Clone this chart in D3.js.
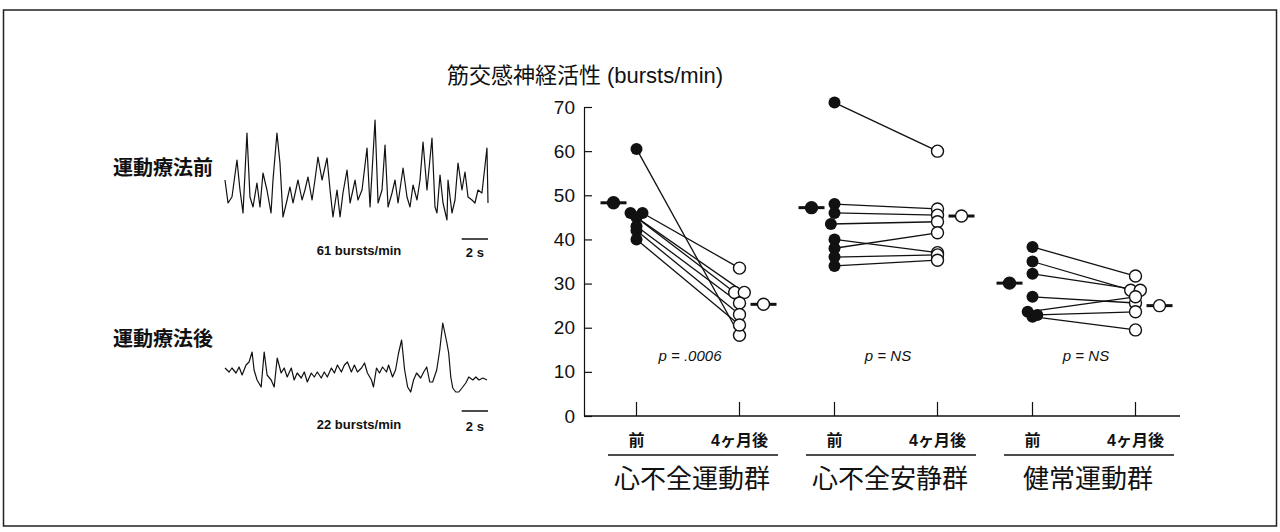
<!DOCTYPE html>
<html>
<head>
<meta charset="utf-8">
<script src="https://cdn.jsdelivr.net/npm/d3@7"></script>
<style>
  body { margin: 0; background: #fff; }
  svg { display: block; }
  text { fill: #111; }
</style>
</head>
<body>
<svg id="chart" width="1280" height="532"></svg>
<script>
// ---- data -------------------------------------------------------------
const groups = ["心不全運動群", "心不全安静群", "健常運動群"];
const phases = ["前", "4ヶ月後"];
const pLabels = ["p = .0006", "p = NS", "p = NS"];
const yTicks = [0, 10, 20, 30, 40, 50, 60, 70];

// individual subjects, before / after (bursts/min)
const hfExPre   = [60.5, 46, 46, 45, 43, 42, 40];
const hfExPost  = [18.3, 33.5, 28, 28, 25.6, 23, 20.6];
const hfRestPre  = [71, 48, 46, 43.5, 40, 38, 36, 34];
const hfRestPost = [60, 46.9, 45.5, 44, 37, 41.5, 36.5, 35.3];
const normExPre  = [38.3, 35, 32.2, 27, 23.6, 22.9, 22.5];
const normExPost = [31.7, 28.5, 28.5, 25.6, 27, 23.6, 19.5];

// small side-by-side shifts where dots overlap (in dot widths)
const hfExPreShift   = [0, 0.5, -0.5, 0, 0, 0, 0];
const hfExPostShift  = [0, 0, -0.4, 0.4, 0, 0, 0];
const hfRestPreShift  = [0, 0, 0, -0.3, 0, 0, 0, 0];
const hfRestPostShift = [0, 0, 0, 0, 0, 0, 0, 0];
const normExPreShift  = [0, 0, 0, 0, -0.4, 0.4, 0];
const normExPostShift = [0, -0.4, 0.4, 0, 0, 0, 0];

// group means, before / after
const meanPre  = [48.3, 47.2, 30.1];
const meanPost = [25.3, 45.3, 25];

// MSNA traces: [time (s), amplitude (a.u.)]
const traceBefore = [
  [0,40],[0.23,17],[0.53,23],[0.91,60],[1.14,30],[1.37,7],[1.67,87],[1.9,23],[2.13,13],
  [2.43,37],[2.66,13],[2.89,47],[3.19,30],[3.5,7],[3.65,40],[3.95,87],[4.18,57],[4.41,3],
  [4.72,20],[4.94,33],[5.17,17],[5.55,40],[5.86,20],[6.08,30],[6.31,43],[6.62,20],[6.84,40],
  [7.07,63],[7.38,40],[7.76,62],[7.99,30],[8.21,3],[8.52,30],[8.75,3],[8.97,27],[9.28,50],
  [9.51,17],[9.73,30],[9.89,40],[10.11,20],[10.42,30],[10.8,72],[11.03,13],[11.41,100],
  [11.64,17],[11.94,30],[12.17,75],[12.4,13],[12.7,27],[12.93,40],[13.16,17],[13.54,52],
  [13.84,23],[14.07,13],[14.3,35],[14.6,20],[14.83,40],[15.06,78],[15.36,30],[15.74,82],
  [15.97,13],[16.12,7],[16.35,45],[16.58,17],[16.88,0],[16.96,40],[17.26,7],[17.49,20],
  [17.72,57],[18.02,30],[18.25,48],[18.48,23],[18.78,20],[19.01,17],[19.24,30],[19.54,27],
  [19.92,72],[20,17]
];
const traceAfter = [
  [0,27],[0.31,23],[0.53,27],[0.84,22],[1.07,28],[1.3,20],[1.6,30],[1.83,33],[2.06,43],
  [2.21,25],[2.44,15],[2.75,8],[2.98,43],[3.2,20],[3.51,15],[3.74,8],[3.97,37],[4.27,22],
  [4.5,27],[4.73,18],[5.04,27],[5.26,15],[5.49,22],[5.8,17],[6.03,23],[6.26,13],[6.56,22],
  [6.79,18],[7.02,23],[7.32,17],[7.55,23],[7.78,18],[8.09,27],[8.32,22],[8.55,30],[8.85,23],
  [9.08,30],[9.31,33],[9.61,23],[9.84,30],[10.07,23],[10.38,27],[10.61,32],[10.83,22],
  [11.14,15],[11.29,8],[11.52,27],[11.75,22],[11.98,28],[12.28,23],[12.44,30],[12.74,18],
  [12.97,25],[13.2,42],[13.43,55],[13.66,25],[13.89,8],[14.12,3],[14.34,15],[14.57,22],
  [14.88,17],[15.11,23],[15.34,28],[15.57,13],[15.79,13],[16.1,25],[16.33,45],[16.56,72],
  [16.86,53],[17.01,42],[17.17,18],[17.32,7],[17.55,3],[17.78,3],[18.08,8],[18.31,12],
  [18.54,18],[18.85,15],[19.08,18],[19.31,15],[19.61,17],[19.92,15]
];
const traceRates = ["61 bursts/min", "22 bursts/min"];
const traceLabels = ["運動療法前", "運動療法後"];

// ---- drawing ----------------------------------------------------------
const svg = d3.select("#chart");
const latin = "'Liberation Sans', Arial, Helvetica, sans-serif";
const cjk = "'Liberation Sans', 'Noto Sans CJK JP', sans-serif";

// frame
svg.append("rect")
  .attr("x", 3.5).attr("y", 10).attr("width", 1273).attr("height", 516)
  .attr("fill", "none").attr("stroke", "#222").attr("stroke-width", 1.5);

// title
svg.append("text")
  .attr("x", 585).attr("y", 83)
  .attr("text-anchor", "middle")
  .style("font-family", cjk).style("font-size", "22px")
  .text("筋交感神経活性 (bursts/min)");

// --- left: nerve traces
const tx = d3.scaleLinear().domain([0, 20]).range([225, 488]);
const tyBefore = d3.scaleLinear().domain([0, 100]).range([220, 120]);
const tyAfter = d3.scaleLinear().domain([0, 100]).range([395, 295]);

const traces = [
  { data: traceBefore, y: tyBefore, labelY: 168, barY: 239, textY: 257 },
  { data: traceAfter, y: tyAfter, labelY: 339, barY: 411, textY: 431 }
];

traces.forEach((t, i) => {
  const line = d3.line().x(d => tx(d[0])).y(d => t.y(d[1]));
  svg.append("path")
    .datum(t.data)
    .attr("d", line)
    .attr("fill", "none").attr("stroke", "#111").attr("stroke-width", 1.2)
    .attr("stroke-linejoin", "round");

  svg.append("text")
    .attr("x", 113).attr("y", t.labelY + 7)
    .style("font-family", "'Noto Sans CJK JP', sans-serif")
    .style("font-size", "20px").style("font-weight", "bold")
    .text(traceLabels[i]);

  // 2 s scale bar
  svg.append("line")
    .attr("x1", tx(18)).attr("x2", tx(20))
    .attr("y1", t.barY).attr("y2", t.barY)
    .attr("stroke", "#111").attr("stroke-width", 1.5);
  svg.append("text")
    .attr("x", (tx(18) + tx(20)) / 2).attr("y", t.textY)
    .attr("text-anchor", "middle")
    .style("font-family", latin).style("font-size", "13px").style("font-weight", "bold")
    .text("2 s");
  svg.append("text")
    .attr("x", 359).attr("y", t.textY - 2)
    .attr("text-anchor", "middle")
    .style("font-family", latin).style("font-size", "13px").style("font-weight", "bold")
    .text(traceRates[i]);
});

// --- right: dot plot
const y = d3.scaleLinear().domain([0, 70]).range([416, 107]);
const gx = d3.scalePoint().domain(groups).range([688, 1084]);
const px = d3.scalePoint().domain(phases).range([-51.5, 51.5]);
const r = 6;

const yAxis = d3.axisLeft(y)
  .tickValues(yTicks)
  .tickSizeInner(-8)
  .tickSizeOuter(0)
  .tickPadding(9);

const ya = svg.append("g")
  .attr("transform", "translate(584,0)")
  .call(yAxis);
ya.selectAll("path, line").attr("stroke", "#111").attr("stroke-width", 1.2);
ya.selectAll("text")
  .style("font-family", latin).style("font-size", "19px").attr("fill", "#111");

// x baseline with upward ticks
svg.append("line")
  .attr("x1", 584).attr("x2", 1180)
  .attr("y1", y(0)).attr("y2", y(0))
  .attr("stroke", "#111").attr("stroke-width", 1.4);

const ticks = groups.flatMap(g => phases.map(p => ({ g, p })));
svg.append("g").selectAll("line")
  .data(ticks)
  .join("line")
  .attr("x1", d => gx(d.g) + px(d.p)).attr("x2", d => gx(d.g) + px(d.p))
  .attr("y1", y(0)).attr("y2", y(0) - 14)
  .attr("stroke", "#111").attr("stroke-width", 1.2);

svg.append("g").selectAll("text")
  .data(ticks)
  .join("text")
  .attr("x", d => gx(d.g) + px(d.p))
  .attr("y", 446)
  .attr("text-anchor", "middle")
  .style("font-family", cjk).style("font-size", "16px").style("font-weight", "bold")
  .text(d => d.p);

// group underline + name
groups.forEach((g, i) => {
  svg.append("line")
    .attr("x1", gx(g) - 80).attr("x2", gx(g) + 90)
    .attr("y1", 455).attr("y2", 455)
    .attr("stroke", "#111").attr("stroke-width", 1.4);
  svg.append("text")
    .attr("x", gx(g) + 4).attr("y", 488)
    .attr("text-anchor", "middle")
    .style("font-family", "'Noto Sans CJK JP', sans-serif").style("font-size", "26px")
    .text(g);
  svg.append("text")
    .attr("x", gx(g) + 2).attr("y", y(13.5) + 5)
    .attr("text-anchor", "middle")
    .style("font-family", latin).style("font-size", "15px").style("font-style", "italic")
    .text(pLabels[i]);
});

const sets = [
  { pre: hfExPre, post: hfExPost, sPre: hfExPreShift, sPost: hfExPostShift },
  { pre: hfRestPre, post: hfRestPost, sPre: hfRestPreShift, sPost: hfRestPostShift },
  { pre: normExPre, post: normExPost, sPre: normExPreShift, sPost: normExPostShift }
];

const subjects = sets.flatMap((s, gi) => s.pre.map((v, k) => ({
  x1: gx(groups[gi]) + px(phases[0]) + s.sPre[k] * 2 * r,
  y1: y(v),
  x2: gx(groups[gi]) + px(phases[1]) + s.sPost[k] * 2 * r,
  y2: y(s.post[k])
})));

const plot = svg.append("g");
plot.selectAll("line.subj")
  .data(subjects)
  .join("line")
  .attr("class", "subj")
  .attr("x1", d => d.x1).attr("y1", d => d.y1)
  .attr("x2", d => d.x2).attr("y2", d => d.y2)
  .attr("stroke", "#111").attr("stroke-width", 1.3);

plot.selectAll("circle.pre")
  .data(subjects)
  .join("circle")
  .attr("class", "pre")
  .attr("cx", d => d.x1).attr("cy", d => d.y1).attr("r", r)
  .attr("fill", "#111");

plot.selectAll("circle.post")
  .data(subjects)
  .join("circle")
  .attr("class", "post")
  .attr("cx", d => d.x2).attr("cy", d => d.y2).attr("r", r)
  .attr("fill", "#fff").attr("stroke", "#111").attr("stroke-width", 1.4);

// group means with bar
const means = groups.flatMap((g, i) => [
  { x: gx(g) + px(phases[0]) - 23, v: meanPre[i], fill: "#111" },
  { x: gx(g) + px(phases[1]) + 24, v: meanPost[i], fill: "#fff" }
]);
const mg = plot.selectAll("g.mean")
  .data(means)
  .join("g")
  .attr("class", "mean")
  .attr("transform", d => `translate(${d.x},${y(d.v)})`);
mg.append("line")
  .attr("x1", -13).attr("x2", 13)
  .attr("stroke", "#111").attr("stroke-width", 3);
mg.append("circle")
  .attr("r", r)
  .attr("fill", d => d.fill).attr("stroke", "#111").attr("stroke-width", 1.4);
</script>
</body>
</html>
